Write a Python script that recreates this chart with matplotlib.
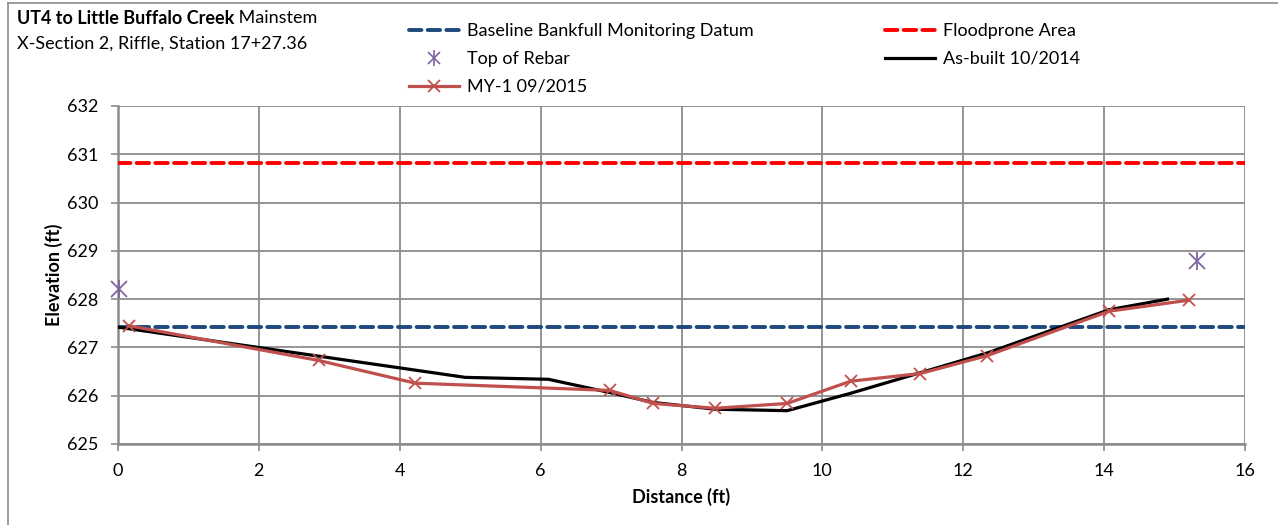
import matplotlib
matplotlib.use("Agg")
import matplotlib.pyplot as plt
from matplotlib.lines import Line2D

plt.rcParams['font.family'] = ['Lato', 'DejaVu Sans']

# ---- data ----
bankfull_elev = 627.42
floodprone_elev = 630.82
x_range = [0, 16]

rebar_x = [0.01, 15.32]
rebar_y = [628.22, 628.78]

asbuilt_x = [0.0, 4.93, 6.11, 7.0, 7.6, 8.48, 9.5, 10.4, 11.4, 12.35, 14.07, 14.9]
asbuilt_y = [627.42, 626.38, 626.34, 626.06, 625.86, 625.72, 625.69, 626.05, 626.48, 626.89, 627.78, 628.0]

my1_x = [0.15, 2.85, 4.22, 6.98, 7.6, 8.48, 9.5, 10.4, 11.39, 12.34, 14.07, 15.21]
my1_y = [627.45, 626.73, 626.26, 626.11, 625.84, 625.74, 625.84, 626.30, 626.46, 626.83, 627.75, 627.98]

x_ticks = [0, 2, 4, 6, 8, 10, 12, 14, 16]
y_ticks = [625, 626, 627, 628, 629, 630, 631, 632]

title_bold = "UT4 to Little Buffalo Creek"
title_rest = " Mainstem"
subtitle = "X-Section 2, Riffle, Station 17+27.36"
x_label = "Distance (ft)"
y_label = "Elevation (ft)"

# ---- figure ----
W, H = 1278, 525
fig = plt.figure(figsize=(W / 100, H / 100), dpi=100)
ax_l, ax_r, ax_t, ax_b = 118, 1245, 106, 444
ax = fig.add_axes([ax_l / W, 1 - ax_b / H, (ax_r - ax_l) / W, (ax_b - ax_t) / H])

grid_c = '#8C8C8C'
fs = 13
dash = (0, (3.2, 1.6))

ax.plot(x_range, [bankfull_elev] * 2, color='#1F497D', lw=2.8,
        ls=dash, dash_capstyle='round', zorder=3)
ax.plot(x_range, [floodprone_elev] * 2, color='#FF0000', lw=2.8,
        ls=dash, dash_capstyle='round', zorder=3)
ax.plot(rebar_x, rebar_y, ls='none', marker='x', ms=11, mew=1.3, color='#8064A2', zorder=5,
        clip_on=False)
ax.plot(rebar_x, rebar_y, ls='none', marker='|', ms=13, mew=1.3, color='#8064A2', zorder=5,
        clip_on=False)
ax.plot(asbuilt_x, asbuilt_y, color='black', lw=2.3, zorder=4)
ax.plot(my1_x, my1_y, color='#C0504D', lw=2.3, marker='x', ms=8, mew=1.3,
        zorder=4.5, clip_on=False)

ax.set_xlim(0, 16)
ax.set_ylim(625, 632)
ax.set_xticks(x_ticks)
ax.set_yticks(y_ticks)
ax.grid(True, color=grid_c, lw=1.3)
ax.set_axisbelow(True)
for s in ['top', 'right']:
    ax.spines[s].set_visible(False)
for s in ['left', 'bottom']:
    ax.spines[s].set_color(grid_c)
    ax.spines[s].set_linewidth(1.8)
ax.tick_params(axis='both', colors=grid_c, labelcolor='black', labelsize=fs,
               length=5, width=1.2, direction='out')
ax.tick_params(axis='x', pad=8.5)
ax.tick_params(axis='y', pad=9)
ax.set_xlabel(x_label, fontsize=fs, fontweight='bold')
ax.set_ylabel(y_label, fontsize=fs, fontweight='bold')
# place axis labels at the reference pixel positions (centre x=54 px, centre y=497 px)
ax.yaxis.set_label_coords((54 - ax_l) / (ax_r - ax_l), 0.5)
ax.yaxis.label.set_va('center')
ax.xaxis.set_label_coords(0.5, (ax_b - 497) / (ax_b - ax_t))
ax.xaxis.label.set_va('center')

# legend handles
h_bank = Line2D([], [], color='#1F497D', lw=2.8, ls=dash, dash_capstyle='round')
h_flood = Line2D([], [], color='#FF0000', lw=2.8, ls=dash, dash_capstyle='round')
h_rebar_x = Line2D([], [], color='#8064A2', ls='none', marker='x', ms=9, mew=1.2)
h_rebar_v = Line2D([], [], color='#8064A2', ls='none', marker='|', ms=11, mew=1.2)
h_ab = Line2D([], [], color='black', lw=2.3)
h_my1 = Line2D([], [], color='#C0504D', lw=2.3, marker='x', ms=8, mew=1.3)

leg_kw = dict(frameon=False, fontsize=fs, handlelength=2.75, handletextpad=0.45,
              labelspacing=0.66, borderpad=0, borderaxespad=0, loc='upper left')
fig.legend([h_bank, (h_rebar_x, h_rebar_v), h_my1],
           ['Baseline Bankfull Monitoring Datum', 'Top of Rebar', 'MY-1 09/2015'],
           bbox_to_anchor=(409 / W, 1 - 23 / H), **leg_kw)
fig.legend([h_flood, h_ab], ['Floodprone Area', 'As-built 10/2014'],
           bbox_to_anchor=(885 / W, 1 - 23 / H), **leg_kw)

# titles
t1 = fig.text(17 / W, 1 - 18 / H, title_bold, fontsize=fs, fontweight='bold', va='center', ha='left')
fig.canvas.draw()
r = fig.canvas.get_renderer()
bb = t1.get_window_extent(r)
fig.text(bb.x1 / W, 1 - 18 / H, title_rest, fontsize=fs, va='center', ha='left')
fig.text(17 / W, 1 - 44 / H, subtitle, fontsize=fs, va='center', ha='left')

# outer chart border (left and top visible)
fig.add_artist(Line2D([8 / W, 8 / W], [0, 1 - 3 / H], color='#8C8C8C', lw=1.2,
                      transform=fig.transFigure))
fig.add_artist(Line2D([8 / W, 1], [1 - 3 / H, 1 - 3 / H], color='#8C8C8C', lw=1.2,
                      transform=fig.transFigure))

fig.savefig('out.png', dpi=100)
